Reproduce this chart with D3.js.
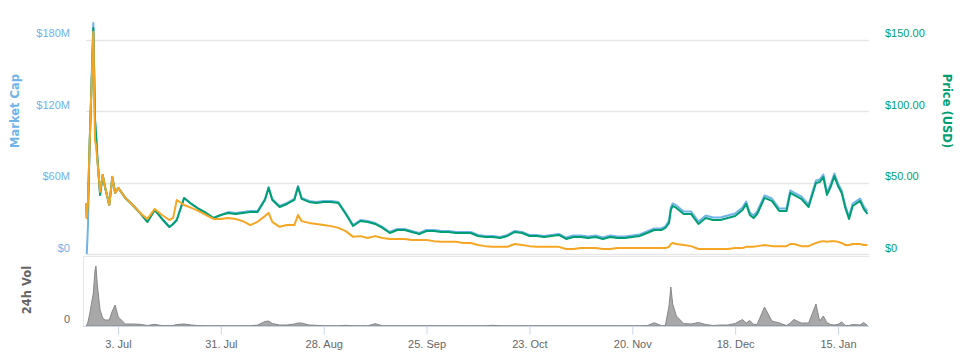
<!DOCTYPE html>
<html><head><meta charset="utf-8">
<script src="https://cdn.jsdelivr.net/npm/d3@7"></script>
<style>
body{margin:0;background:#fff}
svg{display:block;font-family:"Lucida Grande","Lucida Sans Unicode","DejaVu Sans",sans-serif}
</style>
</head><body><svg id="c" width="965" height="359"></svg>
<script>
// ---- data ----
const dates = [
"2017-06-24T07:00","2017-06-24T12:00","2017-06-24T20:00","2017-06-25T07:00","2017-06-26T07:00","2017-06-26T18:00","2017-06-27T00:00","2017-06-27T09:00","2017-06-28T03:00","2017-06-28T20:00","2017-06-29T11:00","2017-06-30T15:00","2017-07-01T11:00","2017-07-02T05:00","2017-07-03T02:00",
"2017-07-05","2017-07-07","2017-07-09","2017-07-11","2017-07-13","2017-07-15","2017-07-17","2017-07-18","2017-07-19","2017-07-21","2017-07-23","2017-07-25","2017-07-27","2017-07-29","2017-07-31",
"2017-08-02","2017-08-04","2017-08-06","2017-08-08","2017-08-10","2017-08-12","2017-08-13","2017-08-14","2017-08-16","2017-08-18","2017-08-20","2017-08-21","2017-08-22","2017-08-24","2017-08-26","2017-08-28","2017-08-30",
"2017-09-01","2017-09-03","2017-09-05","2017-09-07","2017-09-09","2017-09-11","2017-09-13","2017-09-15","2017-09-17","2017-09-19","2017-09-21","2017-09-23","2017-09-25","2017-09-27","2017-09-29",
"2017-10-01","2017-10-03","2017-10-05","2017-10-07","2017-10-09","2017-10-11","2017-10-13","2017-10-15","2017-10-17","2017-10-19","2017-10-21","2017-10-23","2017-10-25","2017-10-27","2017-10-29","2017-10-31",
"2017-11-02","2017-11-04","2017-11-06","2017-11-08","2017-11-10","2017-11-12","2017-11-14","2017-11-16","2017-11-18","2017-11-20","2017-11-22","2017-11-24","2017-11-26","2017-11-28","2017-11-29","2017-11-30","2017-11-30T12:00",
"2017-12-01","2017-12-02","2017-12-04","2017-12-06","2017-12-08","2017-12-10","2017-12-12","2017-12-14","2017-12-16","2017-12-18","2017-12-20","2017-12-21","2017-12-22","2017-12-23","2017-12-24","2017-12-26","2017-12-28","2017-12-30",
"2018-01-01","2018-01-02","2018-01-03","2018-01-05","2018-01-07","2018-01-09","2018-01-10","2018-01-11","2018-01-12","2018-01-13","2018-01-14","2018-01-15","2018-01-16","2018-01-17","2018-01-18","2018-01-19","2018-01-21","2018-01-22","2018-01-23"
];
const priceUsd = [
35.7,25.2,36.4,77.6,158.0,93.7,84.6,67.8,41.3,55.2,46.9,34.3,53.8,42.7,46.2,
39.2,34.3,28.7,22.4,30.8,24.5,18.9,21.0,23.8,39.2,35.0,31.5,28.7,25.2,27.3,
28.7,28.0,28.7,29.4,29.4,37.8,46.2,37.8,32.9,35.0,37.8,46.9,38.5,36.4,35.7,36.4,36.4,
35.7,28.0,19.6,23.1,22.4,21.0,18.2,14.7,16.8,16.8,15.4,14.0,16.1,16.1,15.4,
15.4,14.7,14.7,14.7,12.6,11.9,11.9,11.2,12.6,15.4,14.7,12.6,12.6,11.9,12.6,13.3,
10.5,11.9,11.9,11.2,11.9,10.5,11.9,11.2,11.2,11.9,12.6,14.7,16.8,16.8,18.2,21.7,30.8,
33.6,32.2,28.0,28.0,21.0,25.2,23.8,23.8,25.2,26.6,30.8,35.0,27.3,25.2,28.0,39.2,37.1,30.1,
30.1,42.7,41.3,38.5,32.9,49.7,50.3,53.8,41.3,46.9,54.5,47.6,42.7,32.2,24.5,33.6,37.1,31.5,28.0
];
const marketCapM = [
null,0,24.3,93.2,193.9,112.5,101.5,81.4,49.5,66.3,56.2,41.1,64.6,51.2,55.4,
47.0,41.1,34.4,26.9,36.9,29.4,22.7,25.2,28.5,47.0,42.0,37.8,34.4,30.2,32.7,
35.2,34.4,35.2,36.1,36.1,46.2,56.2,46.2,40.3,42.8,46.2,57.1,47.0,44.5,43.6,44.5,44.5,
43.6,34.4,24.3,28.5,27.7,26.0,22.7,18.5,21.0,21.0,19.3,17.6,20.1,20.1,19.3,
19.3,18.5,18.5,18.5,16.0,15.1,15.1,14.3,16.0,19.3,18.5,16.0,16.0,15.1,16.0,16.8,
13.8,15.5,15.5,14.7,15.5,13.8,15.5,14.7,14.7,15.5,16.4,18.9,21.4,21.4,23.1,28.1,39.0,
42.4,40.7,35.7,35.7,27.3,32.3,30.6,30.6,32.3,34.0,39.0,44.1,34.8,32.3,35.7,49.1,46.6,38.2,
38.2,53.3,51.6,48.3,41.5,61.7,62.5,66.7,51.6,58.3,67.6,59.2,53.3,40.7,31.5,42.4,46.6,39.9,35.7
];
const priceBtc = [
0.0143,0.0101,0.0146,0.0311,0.0622,0.0319,0.0305,0.0263,0.0174,0.0221,0.0188,0.0137,0.0216,0.0171,0.0185,
0.0157,0.0137,0.0115,0.0098,0.0126,0.0109,0.0095,0.0101,0.0151,0.0137,0.0129,0.0120,0.0109,0.0098,0.0098,
0.0101,0.0098,0.0092,0.0081,0.0090,0.0106,0.0115,0.0090,0.0076,0.0081,0.0081,0.0109,0.0092,0.0087,0.0084,0.0081,0.0078,
0.0073,0.0064,0.0048,0.0050,0.0045,0.0050,0.0045,0.0042,0.0042,0.0042,0.0039,0.0039,0.0039,0.0036,0.0034,
0.0034,0.0034,0.0031,0.0031,0.0025,0.0022,0.0020,0.0020,0.0020,0.0028,0.0025,0.0022,0.0020,0.0020,0.0020,0.0020,
0.0014,0.0014,0.0017,0.0017,0.0017,0.0014,0.0014,0.0017,0.0017,0.0017,0.0017,0.0017,0.0017,0.0017,0.0017,0.0020,0.0028,
0.0031,0.0028,0.0025,0.0022,0.0014,0.0014,0.0014,0.0014,0.0014,0.0017,0.0017,0.0020,0.0020,0.0020,0.0022,0.0025,0.0022,0.0022,
0.0022,0.0028,0.0028,0.0022,0.0022,0.0031,0.0034,0.0036,0.0034,0.0036,0.0036,0.0034,0.0031,0.0025,0.0025,0.0028,0.0028,0.0025,0.0025
];
const volume24hM = [
0,1,4,12,33,56,60,41,16,8,6,6,15,21,9,
2,2,1.7,0.5,1.7,0.3,0.3,0.5,1.5,2,1,0.3,0.2,0.2,0.2,
0.2,0.2,0.2,0.2,1,4.5,5,2.5,1,1,2,3,3,1,0.7,0.2,0.2,
0.2,0.7,0.2,0.2,0.2,2.3,0.3,0.2,0.2,0.2,0.2,0.2,0.2,0.2,0.2,
0.2,0.2,0.2,0.2,0.2,0.2,0.7,0.2,0.2,0.2,0.2,0.2,0.2,0.2,0.2,0.2,
0.2,0.2,0.2,0.2,0.2,0.2,0.2,0.2,0.2,0.2,0.2,0.3,3.3,0.2,0.5,20,39,
22,10,2.5,2,3.5,1.5,0.5,1,1,2.5,6.5,3,5.5,1.7,1.7,19,5,3,
0.5,3,6.5,3,3,22,5,10,3.3,1.5,1,1.7,4,0.5,0.5,1.5,1,3.5,0.5
];
const xTickDates = ["2017-07-03","2017-07-31","2017-08-28","2017-09-25","2017-10-23","2017-11-20","2017-12-18","2018-01-15"];
const mcapTicks = [0,60,120,180];
const priceTicks = [0,50,100,150];
const volTicks = [0];

// ---- drawing ----
const parse = s => new Date(s.length === 10 ? s + "T00:00:00Z" : s + ":00Z");
const T = dates.map(parse);
const svg = d3.select("#c");

const C = {mcap:"#70b3e8", price:"#009e73", btc:"#f5a623", vol:"#999999", grid:"#e6e6e6", axis:"#ccd6eb", text:"#666666"};

const x = d3.scaleUtc().domain([parse("2017-06-24T07:00"), parse("2018-01-23T04:00")]).range([86, 868]);
const yM = d3.scaleLinear().domain([0,180]).range([254,39.5]);
const yP = d3.scaleLinear().domain([0,150]).range([254,39.5]);
const yB = d3.scaleLinear().domain([0,0.06]).range([254,39.5]);
const yV = d3.scaleLinear().domain([0,68]).range([326,258]);

// gridlines
svg.append("g").selectAll("line").data(mcapTicks).join("line")
  .attr("x1",86).attr("x2",869).attr("y1",d=>Math.round(yM(d))+0.5).attr("y2",d=>Math.round(yM(d))+0.5)
  .attr("stroke",C.grid).attr("stroke-width",1.5);

// left axis (market cap)
const gL = svg.append("g").attr("transform","translate(72,0)")
  .call(d3.axisLeft(yM).tickValues(mcapTicks).tickSize(0).tickPadding(2).tickFormat(d=> d===0 ? "$0" : "$"+d+"M"));
gL.select(".domain").remove();
gL.selectAll("text").attr("fill",C.mcap).attr("font-size",11).attr("dy","-0.25em").attr("font-family",null);

// right axis (price)
const gR = svg.append("g").attr("transform","translate(883,0)")
  .call(d3.axisRight(yP).tickValues(priceTicks).tickSize(0).tickPadding(2).tickFormat(d=> d===0 ? "$0" : "$"+d.toFixed(2)));
gR.select(".domain").remove();
gR.selectAll("text").attr("fill",C.price).attr("font-size",11).attr("dy","-0.25em").attr("font-family",null);

// axis titles
svg.append("text").attr("transform","translate(19,111) rotate(-90)").attr("text-anchor","middle")
  .attr("font-size",11.5).attr("font-weight","bold").attr("fill",C.mcap).text("Market Cap");
svg.append("text").attr("transform","translate(943,111) rotate(90)").attr("text-anchor","middle")
  .attr("font-size",11.5).attr("font-weight","bold").attr("fill",C.price).text("Price (USD)");
svg.append("text").attr("transform","translate(31,290) rotate(-90)").attr("text-anchor","middle")
  .attr("font-size",11.5).attr("font-weight","bold").attr("fill",C.text).text("24h Vol");

// series lines
const line = (ys, vals) => d3.line().defined((d,i)=>vals[i]!==null).x((d,i)=>x(T[i])).y((d,i)=>ys(vals[i]));
svg.append("path").datum(dates).attr("d", line(yM, marketCapM)).attr("fill","none").attr("stroke",C.mcap).attr("stroke-width",2).attr("stroke-linejoin","round");
svg.append("path").datum(dates).attr("d", line(yP, priceUsd)).attr("fill","none").attr("stroke",C.price).attr("stroke-width",2).attr("stroke-linejoin","round");
svg.append("path").datum(dates).attr("d", line(yB, priceBtc)).attr("fill","none").attr("stroke",C.btc).attr("stroke-width",2).attr("stroke-linejoin","round");

// volume panel
svg.append("line").attr("x1",83).attr("x2",869).attr("y1",256.5).attr("y2",256.5).attr("stroke",C.grid).attr("stroke-width",1);
svg.append("line").attr("x1",83.5).attr("x2",83.5).attr("y1",257).attr("y2",326).attr("stroke",C.grid).attr("stroke-width",1);
const area = d3.area().x((d,i)=>x(T[i])).y0(yV(0)).y1((d,i)=>yV(volume24hM[i]));
svg.append("path").datum(dates).attr("d", area).attr("fill",C.vol).attr("fill-opacity",0.85).attr("stroke","#888").attr("stroke-width",1);

const gV = svg.append("g").attr("transform","translate(70,0)")
  .call(d3.axisLeft(yV).tickValues(volTicks).tickSize(0).tickPadding(0).tickFormat(d3.format("d")));
gV.select(".domain").remove();
gV.selectAll("text").attr("fill",C.text).attr("font-size",11).attr("dy","-0.3em").attr("font-family",null);

// x axis
const gX = svg.append("g").attr("transform","translate(0,326.5)")
  .call(d3.axisBottom(x).tickValues(xTickDates.map(parse)).tickSize(8).tickPadding(6).tickFormat(d3.utcFormat("%-d. %b")));
gX.select(".domain").attr("d","M83,0H869").attr("stroke",C.axis);
gX.selectAll(".tick line").attr("stroke",C.axis);
gX.selectAll("text").attr("fill",C.text).attr("font-size",11).attr("font-family",null);
</script>
</body></html>
